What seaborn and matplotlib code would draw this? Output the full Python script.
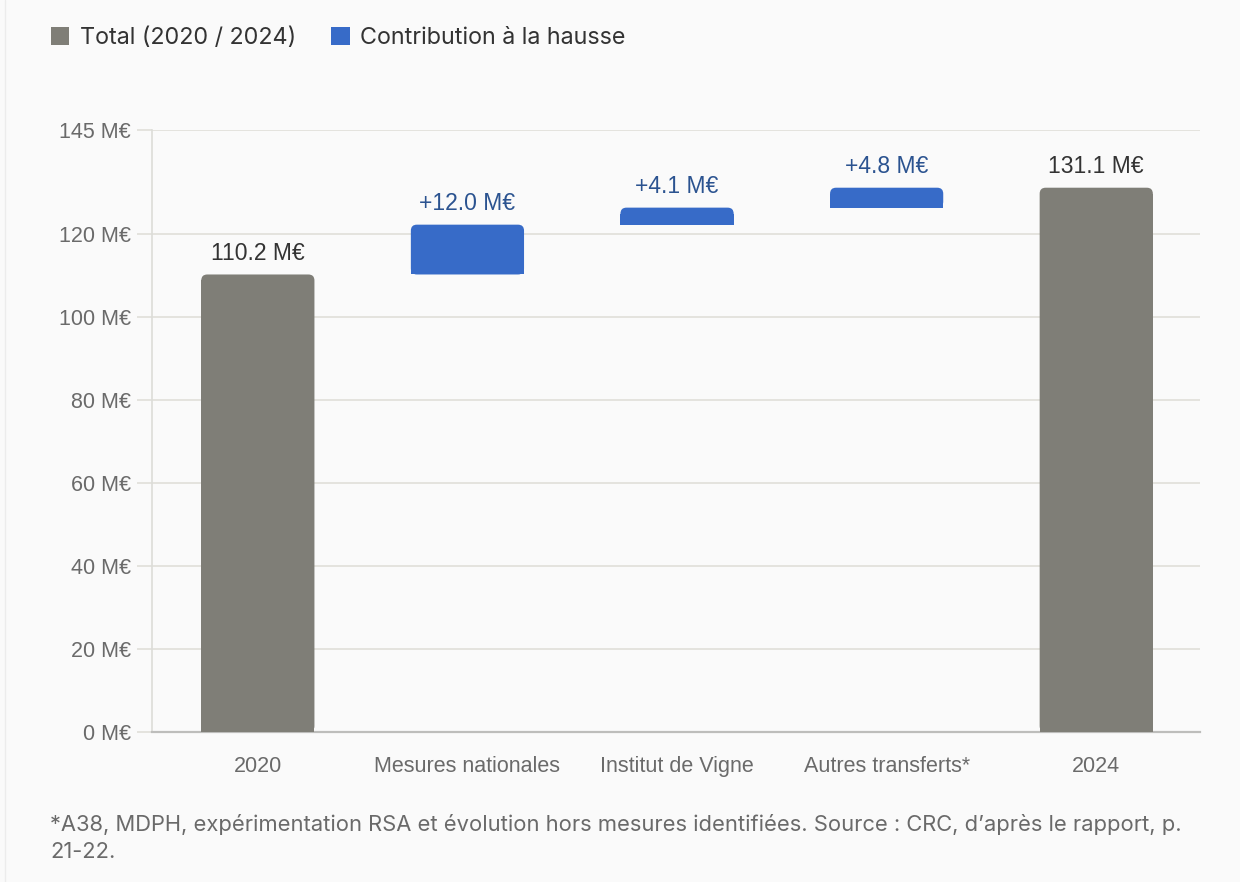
import matplotlib
matplotlib.use("Agg")
import matplotlib.pyplot as plt
from matplotlib.patches import FancyBboxPatch, Rectangle, Patch
from matplotlib.lines import Line2D
import seaborn as sns
import pandas as pd

steps = ["2020", "Mesures nationales", "Institut de Vigne", "Autres transferts*", "2024"]
amounts = [110.2, 12.0, 4.1, 4.8, 131.1]
kinds = ["Total (2020 / 2024)", "Contribution à la hausse", "Contribution à la hausse",
         "Contribution à la hausse", "Total (2020 / 2024)"]
value_labels = ["110.2 M€", "+12.0 M€", "+4.1 M€", "+4.8 M€", "131.1 M€"]
y_ticks = [0, 20, 40, 60, 80, 100, 120, 145]
note = ("*A38, MDPH, expérimentation RSA et évolution hors mesures identifiées. "
        "Source : CRC, d’après le rapport, p.\n21-22.")

GREY = "#7f7e77"
BLUE = "#376bc8"
palette = {"Total (2020 / 2024)": GREY, "Contribution à la hausse": BLUE}
label_colors = {"Total (2020 / 2024)": "#333333", "Contribution à la hausse": "#2b5390"}

# waterfall: totals start at 0, contributions stack on the running total
bases = []
running = 0.0
for a, k in zip(amounts, kinds):
    if k.startswith("Total"):
        bases.append(0.0)
        running = a
    else:
        bases.append(running)
        running += a
df = pd.DataFrame({"step": steps, "kind": kinds, "base": bases, "amount": amounts})
df["top"] = df["base"] + df["amount"]

sns.set_style("white")
plt.rcParams["font.family"] = ["Liberation Sans", "DejaVu Sans"]

fig = plt.figure(figsize=(12.4, 8.82), dpi=100, facecolor="#fafafa")
ax = fig.add_axes([152 / 1240, 1 - 732 / 882, (1200 - 152) / 1240, (732 - 130) / 882])
ax.set_facecolor("#fafafa")

sns.barplot(data=df, x="step", y="top", hue="kind", palette=palette, dodge=False,
            width=0.54, order=steps, saturation=1, ax=ax, legend=False)

ax.set_xlim(-0.505, 4.495)
ax.set_ylim(0, 145)

px_x = ax.get_position().width * 1240 / (ax.get_xlim()[1] - ax.get_xlim()[0])
px_y = ax.get_position().height * 882 / 145
radius_px = 6
r = radius_px / px_x
aspect = px_x / px_y
r_y = radius_px / px_y

for p in list(ax.patches):
    xc = p.get_x() + p.get_width() / 2
    i = int(round(xc))
    if p.get_height() == 0:
        p.set_visible(False)
        continue
    row = df.iloc[i]
    color = p.get_facecolor()
    x0, w = p.get_x(), p.get_width()
    p.set_visible(False)
    ax.add_patch(FancyBboxPatch((x0, row["base"]), w, row["amount"],
                                boxstyle=f"round,pad=0,rounding_size={r}",
                                mutation_aspect=aspect, fc=color, ec="none", zorder=3))
    ax.add_patch(Rectangle((x0, row["base"]), w, row["amount"] - r_y,
                           fc=color, ec="none", zorder=3))

for i, row in df.iterrows():
    ax.annotate(value_labels[i], (i, row["top"]), xytext=(0, 7), textcoords="offset points",
                ha="center", va="bottom", fontsize=16.5, color=label_colors[row["kind"]],
                zorder=4)

ax.set_yticks(y_ticks)
ax.set_yticklabels([f"{v} M€" for v in y_ticks])
ax.grid(axis="y", color="#e0dfd9", lw=1.2, zorder=0)
ax.set_axisbelow(True)
ax.tick_params(axis="y", length=11, width=1.2, color="#e0dfd9", pad=4,
               labelsize=15.5, labelcolor="#6a6a6a", left=True)
ax.tick_params(axis="x", length=0, pad=17, labelsize=15.5, labelcolor="#6a6a6a")
ax.set_xlabel("")
ax.set_ylabel("")
for s in ["top", "right"]:
    ax.spines[s].set_visible(False)
ax.spines["left"].set_color("#dcdcd8")
ax.spines["left"].set_linewidth(1.2)
ax.spines["bottom"].set_color("#bdbdbb")
ax.spines["bottom"].set_linewidth(1.6)

handles = [Patch(facecolor=GREY, edgecolor="none"), Patch(facecolor=BLUE, edgecolor="none")]
fig.legend(handles, list(palette.keys()), loc="upper left", bbox_to_anchor=(0.024, 0.993),
           ncol=2, frameon=False, handlelength=0.8, handleheight=0.8, handletextpad=0.45,
           columnspacing=1.5, prop={"family": ["Inter", "DejaVu Sans"], "size": 16.8},
           labelcolor="#333333")

fig.text(50 / 1240, 1 - 814 / 882, note, ha="left", va="top", fontsize=15.8,
         family=["Inter", "DejaVu Sans"], color="#6a6a6a", linespacing=1.45)

fig.add_artist(Line2D([5 / 1240, 5 / 1240], [0, 1], color="#ececec", lw=1))

fig.savefig("out.png", dpi=100, facecolor=fig.get_facecolor())
